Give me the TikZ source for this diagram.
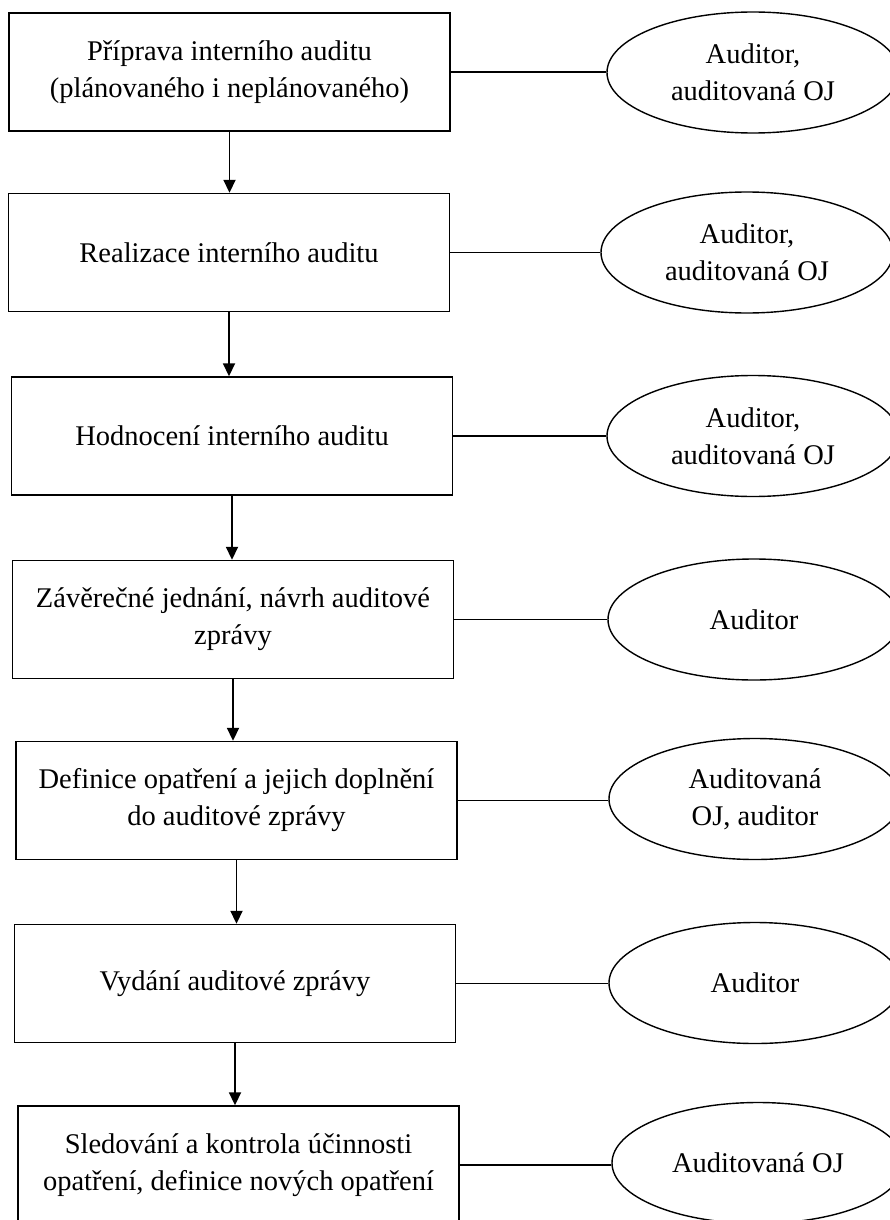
\documentclass[tikz,border=0pt]{standalone}
\usepackage{fontspec}
\setmainfont{Liberation Serif}
\usetikzlibrary{shapes.geometric,arrows.meta}
\begin{document}
\begin{tikzpicture}[x=1pt,y=-1pt,
  txt/.style={font=\fontsize{28.5}{37}\selectfont,align=center,inner sep=0pt},
  stepbox/.style={txt,draw,line width=1.4pt,rectangle,minimum width=441pt,minimum height=118pt},
  role/.style={txt,draw,line width=1.4pt,ellipse,minimum width=292pt,minimum height=121pt},
  arr/.style={line width=1.8pt,-{Triangle[width=12pt,length=13pt]}},
  link/.style={line width=1.4pt}]
\useasboundingbox (0,0) rectangle (890,1220);
\clip (0,0) rectangle (890,1220);
\fill[white] (0,0) rectangle (890,1220);

\node[stepbox] (b1) at (229.5,72) {Příprava interního auditu\\(plánovaného i neplánovaného)};
\node[stepbox] (b2) at (229,252.5) {Realizace interního auditu};
\node[stepbox] (b3) at (232,436) {Hodnocení interního auditu};
\node[stepbox] (b4) at (233,619.5) {Závěrečné jednání, návrh auditové\\zprávy};
\node[stepbox] (b5) at (236.5,800.5) {Definice opatření a jejich doplnění\\do auditové zprávy};
\node[stepbox] (b6) at (235,983.5) {Vydání auditové zprávy};
\node[stepbox] (b7) at (238.5,1165) {Sledování a kontrola účinnosti\\opatření, definice nových opatření};

\node[role] (e1) at (753,72.5) {Auditor,\\auditovaná OJ};
\node[role] (e2) at (747,252.5) {Auditor,\\auditovaná OJ};
\node[role] (e3) at (753,436) {Auditor,\\auditovaná OJ};
\node[role] (e4) at (754,619.5) {Auditor};
\node[role] (e5) at (755,799) {Auditovaná\\OJ, auditor};
\node[role] (e6) at (755,983) {Auditor};
\node[role] (e7) at (758,1163) {Auditovaná OJ};

\foreach \a/\b in {b1/b2,b2/b3,b3/b4,b4/b5,b5/b6,b6/b7}
  \draw[arr] (\a.south) -- (\a.south |- \b.north);

\foreach \i in {1,...,7}
  \draw[link] (b\i.east) -- (b\i.east -| e\i.west);
\end{tikzpicture}
\end{document}
